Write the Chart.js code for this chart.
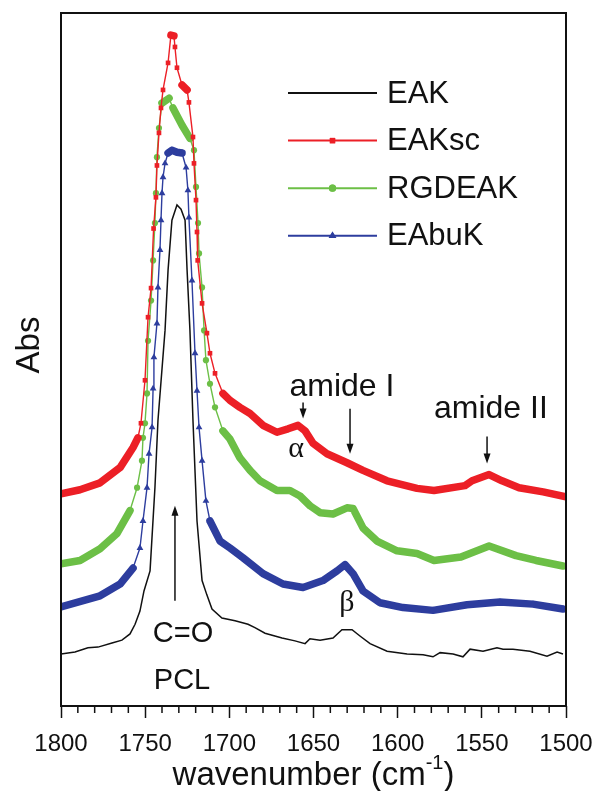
<!DOCTYPE html>
<html>
<head>
<meta charset="utf-8">
<script src="https://cdn.jsdelivr.net/npm/chart.js@4.4.1/dist/chart.umd.min.js"></script>
<style>
  html, body { margin: 0; padding: 0; background: #fff; }
  #wrap { width: 593px; height: 791px; }
</style>
</head>
<body>
<div id="wrap"><canvas id="myChart" width="593" height="791"></canvas></div>
<script>
// wavenumber (cm-1) and absorbance (arbitrary, offset)
const eakX = [1800.0, 1791.7, 1784.0, 1778.0, 1769.7, 1763.8, 1759.0, 1756.0, 1753.1, 1750.7, 1747.1, 1744.2, 1742.4, 1738.2, 1736.4, 1734.1, 1731.1, 1728.7, 1726.3, 1725.1, 1723.4, 1721.6, 1719.2, 1716.2, 1713.3, 1710.3, 1704.4, 1696.6, 1688.9, 1684.8, 1678.8, 1668.7, 1661.0, 1655.0, 1652.1, 1646.1, 1638.4, 1633.1, 1627.1, 1622.4, 1616.4, 1606.3, 1594.4, 1584.9, 1579.0, 1574.8, 1567.1, 1561.2, 1557.0, 1549.3, 1541.0, 1537.4, 1531.5, 1521.4, 1511.3, 1505.3, 1501.8];
const eakY = [7.5, 7.8, 8.4, 8.5, 9.1, 9.5, 10.4, 11.8, 13.7, 16.6, 19.5, 31.5, 41.2, 54.2, 62.9, 70.1, 72.3, 71.7, 70.1, 62.9, 54.2, 41.2, 26.7, 18.1, 16.0, 14.0, 12.7, 12.3, 11.8, 11.3, 10.5, 9.8, 9.4, 9.0, 9.7, 9.5, 9.8, 11.0, 11.0, 10.1, 9.0, 7.9, 7.5, 7.4, 7.1, 7.7, 7.5, 7.1, 8.2, 7.9, 8.4, 8.2, 8.2, 7.9, 7.2, 7.8, 7.5];

const eakscX = [1800.0, 1788.7, 1776.8, 1764.9, 1757.2, 1754.3, 1752.5, 1750.1, 1748.3, 1746.5, 1745.0, 1743.6, 1743.0, 1741.8, 1740.6, 1739.4, 1736.4, 1734.7, 1732.9, 1732.3, 1731.1, 1728.1, 1725.1, 1724.0, 1721.6, 1721.0, 1719.8, 1719.2, 1718.8, 1716.2, 1713.3, 1711.5, 1708.5, 1703.8, 1699.6, 1693.7, 1687.7, 1680.0, 1671.7, 1665.1, 1659.2, 1655.0, 1650.3, 1642.0, 1630.1, 1620.6, 1606.3, 1588.5, 1578.4, 1560.0, 1555.8, 1545.7, 1538.0, 1527.9, 1513.6, 1500.0];
const eakscY = [30.6, 31.2, 32.2, 34.4, 37.3, 38.7, 40.8, 47.0, 56.1, 60.3, 68.9, 73.4, 78.0, 82.7, 86.3, 88.9, 92.8, 96.8, 96.7, 95.1, 92.1, 89.6, 88.9, 87.1, 82.1, 78.3, 73.0, 68.4, 64.3, 58.1, 53.8, 50.9, 48.0, 45.1, 44.1, 43.1, 42.2, 40.5, 39.5, 40.0, 40.5, 39.7, 37.9, 36.4, 35.1, 34.0, 32.5, 31.4, 31.1, 31.8, 32.5, 33.4, 32.5, 31.5, 30.9, 30.2];

const rgdX = [1800.0, 1788.7, 1776.8, 1766.7, 1759.0, 1754.8, 1751.9, 1751.3, 1750.1, 1748.9, 1748.3, 1746.5, 1745.3, 1744.2, 1743.6, 1743.0, 1741.8, 1740.0, 1735.8, 1733.5, 1728.1, 1723.4, 1721.0, 1719.8, 1718.6, 1718.0, 1716.2, 1715.0, 1713.9, 1711.5, 1708.5, 1703.8, 1699.6, 1693.7, 1687.7, 1681.8, 1671.7, 1664.0, 1658.0, 1652.1, 1646.1, 1638.4, 1630.1, 1626.5, 1620.6, 1612.3, 1600.4, 1588.5, 1578.4, 1562.4, 1545.7, 1529.7, 1517.8, 1501.8];
const rgdY = [20.5, 21.0, 22.7, 24.9, 28.2, 31.5, 35.4, 38.7, 40.8, 45.1, 52.7, 58.5, 64.3, 69.7, 74.0, 79.2, 83.4, 87.0, 87.7, 86.3, 83.8, 81.9, 80.2, 74.9, 69.7, 65.3, 60.4, 54.2, 49.9, 46.5, 43.1, 39.7, 38.5, 35.8, 34.0, 32.5, 31.1, 31.1, 30.3, 28.9, 27.9, 27.7, 28.6, 28.5, 25.7, 23.8, 22.4, 22.0, 21.0, 21.5, 23.1, 21.7, 21.0, 20.2];

const eabukX = [1800.0, 1776.8, 1764.9, 1757.2, 1753.1, 1751.3, 1748.9, 1747.7, 1745.9, 1745.3, 1744.8, 1743.0, 1742.4, 1741.2, 1740.6, 1740.0, 1739.4, 1738.2, 1736.4, 1734.1, 1731.1, 1728.1, 1725.7, 1724.6, 1724.0, 1722.2, 1720.4, 1719.2, 1718.0, 1716.2, 1713.9, 1711.5, 1705.5, 1699.6, 1691.9, 1680.0, 1668.1, 1656.2, 1644.4, 1636.0, 1631.3, 1626.5, 1620.6, 1610.5, 1596.8, 1579.0, 1558.8, 1539.2, 1519.6, 1501.8];
const eabukY = [14.3, 15.9, 17.6, 19.9, 22.8, 26.7, 31.5, 36.4, 40.2, 45.8, 50.3, 55.2, 60.4, 65.8, 70.1, 74.0, 76.3, 78.3, 79.8, 80.2, 79.9, 79.8, 77.7, 74.4, 70.5, 61.4, 50.9, 45.5, 40.2, 35.4, 29.6, 26.7, 23.8, 22.8, 21.4, 19.1, 17.6, 17.1, 18.1, 19.5, 20.4, 19.1, 16.6, 14.9, 14.2, 13.8, 14.6, 15.0, 14.7, 14.0];

const xTicks = [1800, 1750, 1700, 1650, 1600, 1550, 1500];

// text labels and arrows, in data coordinates
const notes = [
  { text: "amide I", x: 1633.1, y: 46.0, size: 32 },
  { text: "amide II", x: 1544.6, y: 42.9, size: 32 },
  { text: "\u03b1", x: 1660.4, y: 37.1, size: 30, serif: true },
  { text: "\u03b2", x: 1630.1, y: 14.9, size: 30, serif: true },
  { text: "C=O", x: 1727.5, y: 10.4, size: 29 },
  { text: "PCL", x: 1728.1, y: 3.6, size: 29 },
];
const arrows = [
  { x: 1732.3, from: 15.2, to: 28.9 },
  { x: 1656.2, from: 43.8, to: 41.5 },
  { x: 1628.3, from: 42.9, to: 36.4 },
  { x: 1546.9, from: 38.9, to: 35.0 },
];

const SANS = "'Liberation Sans', Arial, sans-serif";
const SERIF = "'Liberation Serif', 'DejaVu Serif', serif";

const toPoints = (xs, ys) => xs.map((x, i) => ({ x: x, y: ys[i] }));

// thin where the curve is steep (markers visible), thick band where flat
const bandWidth = (thick) => (ctx) => {
  const dx = Math.abs(ctx.p1.x - ctx.p0.x);
  const dy = Math.abs(ctx.p1.y - ctx.p0.y);
  return dy > 2.2 * dx ? 1.4 : thick;
};

function markerSeries(label, xs, ys, color, style, radius) {
  return {
    label: label,
    data: toPoints(xs, ys),
    borderColor: color,
    backgroundColor: color,
    borderWidth: 1.4,
    borderJoinStyle: "round",
    borderCapStyle: "round",
    pointStyle: style,
    pointRadius: radius,
    pointBorderWidth: 0,
    pointBackgroundColor: color,
    tension: 0,
    segment: { borderWidth: bandWidth(7.5) },
  };
}

const framePlugin = {
  id: "frame",
  afterDraw(chart) {
    const { ctx, chartArea: a, scales } = chart;
    const xs = scales.x;
    ctx.save();
    ctx.strokeStyle = "#111";
    ctx.lineWidth = 2;
    ctx.strokeRect(a.left, a.top, a.right - a.left, a.bottom - a.top);

    // minor ticks every 10 cm-1
    ctx.lineWidth = 1.5;
    for (let v = 1500; v <= 1800; v += 10) {
      if (v % 50 === 0) continue;
      const px = xs.getPixelForValue(v);
      ctx.beginPath();
      ctx.moveTo(px, a.bottom);
      ctx.lineTo(px, a.bottom + 7);
      ctx.stroke();
    }

    // axis titles
    ctx.fillStyle = "#111";
    ctx.textBaseline = "middle";
    ctx.textAlign = "left";
    const main = "wavenumber (cm";
    const sup = "-1";
    const close = ")";
    ctx.font = "33px " + SANS;
    const w1 = ctx.measureText(main).width;
    const w3 = ctx.measureText(close).width;
    ctx.font = "20px " + SANS;
    const w2 = ctx.measureText(sup).width;
    const tx = (a.left + a.right) / 2 - (w1 + w2 + w3) / 2;
    const ty = 776;
    ctx.font = "33px " + SANS;
    ctx.fillText(main, tx, ty);
    ctx.font = "20px " + SANS;
    ctx.fillText(sup, tx + w1, ty - 13);
    ctx.font = "33px " + SANS;
    ctx.fillText(close, tx + w1 + w2, ty);

    ctx.save();
    ctx.translate(30, 345);
    ctx.rotate(-Math.PI / 2);
    ctx.textAlign = "center";
    ctx.fillText("Abs", 0, 0);
    ctx.restore();

    // legend
    chart.data.datasets.forEach((ds, i) => {
      const y = a.top + 80 + i * 47.6;
      const x0 = a.left + 227;
      const x1 = a.left + 316;
      ctx.strokeStyle = ds.borderColor;
      ctx.lineWidth = 2;
      ctx.beginPath();
      ctx.moveTo(x0, y);
      ctx.lineTo(x1, y);
      ctx.stroke();
      if (ds.pointRadius > 0) {
        ctx.fillStyle = ds.borderColor;
        Chart.helpers.drawPoint(ctx, {
          pointStyle: ds.pointStyle,
          radius: ds.pointRadius + 0.5,
          rotation: 0,
          borderWidth: 0,
        }, (x0 + x1) / 2, y);
        ctx.fill();
      }
      ctx.fillStyle = "#111";
      ctx.font = "31px " + SANS;
      ctx.textAlign = "left";
      ctx.fillText(ds.label, a.left + 326, y + 1);
    });

    // annotations
    const ys = scales.y;
    ctx.textAlign = "center";
    notes.forEach((n) => {
      ctx.font = n.size + "px " + (n.serif ? SERIF : SANS);
      ctx.fillText(n.text, xs.getPixelForValue(n.x), ys.getPixelForValue(n.y));
    });
    ctx.strokeStyle = "#111";
    ctx.fillStyle = "#111";
    ctx.lineWidth = 1.5;
    arrows.forEach((ar) => {
      const px = xs.getPixelForValue(ar.x);
      const y0 = ys.getPixelForValue(ar.from);
      const y1 = ys.getPixelForValue(ar.to);
      const dir = y1 > y0 ? 1 : -1;
      ctx.beginPath();
      ctx.moveTo(px, y0);
      ctx.lineTo(px, y1 - dir * 6);
      ctx.stroke();
      ctx.beginPath();
      ctx.moveTo(px, y1);
      ctx.lineTo(px - 3.5, y1 - dir * 10);
      ctx.lineTo(px + 3.5, y1 - dir * 10);
      ctx.closePath();
      ctx.fill();
    });
    ctx.restore();
  },
};

const ctx = document.getElementById("myChart").getContext("2d");
const chart = new Chart(ctx, {
  type: "line",
  data: {
    datasets: [
      {
        label: "EAK",
        data: toPoints(eakX, eakY),
        borderColor: "#111111",
        backgroundColor: "#111111",
        borderWidth: 1.5,
        pointRadius: 0,
        tension: 0,
      },
      markerSeries("EAKsc", eakscX, eakscY, "#ec1f26", "rect", 3.3),
      markerSeries("RGDEAK", rgdX, rgdY, "#6cbf46", "circle", 3.1),
      markerSeries("EAbuK", eabukX, eabukY, "#2d3d9e", "triangle", 3.9),
    ],
  },
  options: {
    responsive: false,
    animation: false,
    devicePixelRatio: 1,
    layout: { padding: { left: 61, right: 27, top: 13, bottom: 0 } },
    plugins: { legend: { display: false }, tooltip: { enabled: false } },
    scales: {
      x: {
        type: "linear",
        reverse: true,
        min: 1500,
        max: 1800,
        afterBuildTicks: (scale) => {
          scale.ticks = xTicks.map((v) => ({ value: v }));
        },
        afterFit: (scale) => {
          scale.height = 85;
          scale.paddingLeft = 0;
          scale.paddingRight = 0;
        },
        ticks: {
          autoSkip: false,
          maxRotation: 0,
          padding: 12,
          color: "#111",
          font: { family: SANS, size: 24 },
          callback: (v) => String(v),
        },
        grid: {
          display: true,
          drawOnChartArea: false,
          drawTicks: true,
          tickLength: 12,
          tickColor: "#111",
          tickWidth: 1.5,
        },
        border: { display: false },
        title: { display: false },
      },
      y: {
        display: false,
        min: 0,
        max: 100,
      },
    },
  },
  plugins: [framePlugin],
});
</script>
</body>
</html>
